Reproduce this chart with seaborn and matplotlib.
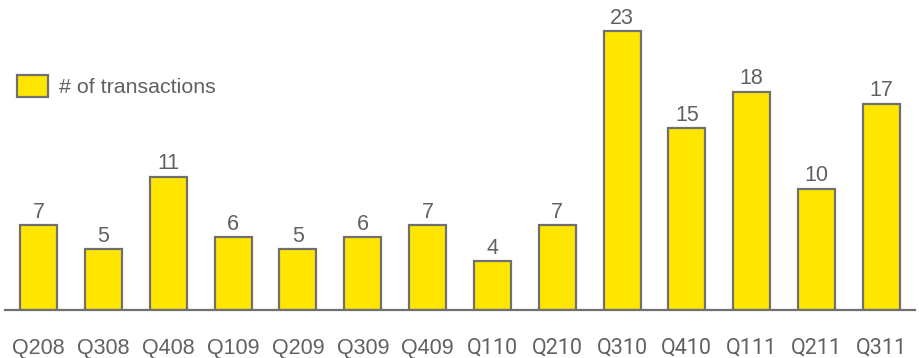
import matplotlib
matplotlib.use("Agg")
import matplotlib.pyplot as plt
import seaborn as sns
import pandas as pd
from matplotlib.patches import Patch

quarters = ["Q208", "Q308", "Q408", "Q109", "Q209", "Q309", "Q409",
            "Q110", "Q210", "Q310", "Q410", "Q111", "Q211", "Q311"]
transactions = [7, 5, 11, 6, 5, 6, 7, 4, 7, 23, 15, 18, 10, 17]
series_name = "# of transactions"

sns.set_theme(style="white")
plt.rcParams['font.family'] = ['Liberation Sans', 'DejaVu Sans']

df = pd.DataFrame({"quarter": quarters, "value": transactions})

fig = plt.figure(figsize=(9.2, 3.58), dpi=100)
ax = fig.add_axes([5/920, 48/358, 910/920, (310-6.7)/358])

yellow = "#FFE600"
edge = "#707070"
txt = "#616161"

sns.barplot(data=df, x="quarter", y="value", color=yellow, width=0.57,
            edgecolor=edge, linewidth=1.6, saturation=1, ax=ax)

ax.set_xlim(-0.52, 13.52)
ax.set_ylim(0, 25)
ax.set_xlabel("")
ax.set_ylabel("")
ax.set_yticks([])
for s in ["top", "right", "left"]:
    ax.spines[s].set_visible(False)
ax.spines["bottom"].set_color(edge)
ax.spines["bottom"].set_linewidth(1.6)

for i, v in enumerate(transactions):
    ax.text(i, v + 0.2, str(v), ha="center", va="bottom", fontsize=15.5, color=txt)

ax.set_xticks(range(len(quarters)))
ax.set_xticklabels(quarters)
ax.tick_params(axis="x", length=0, pad=20, labelsize=15.5, labelcolor=txt)
for i, lab in enumerate(ax.get_xticklabels()):
    if i >= 7:
        lab.set_fontfamily(["Roboto", "DejaVu Sans"])
        lab.set_fontweight("normal")

handle = Patch(facecolor=yellow, edgecolor=edge, linewidth=1.6, label=series_name)
leg = ax.legend(handles=[handle], loc="upper left", bbox_to_anchor=(0.013, 0.775),
                frameon=False, fontsize=15.4, handlelength=1.45, handleheight=1.2,
                handletextpad=0.5, borderaxespad=0, borderpad=0)
for t in leg.get_texts():
    t.set_color(txt)

fig.savefig("out.png", dpi=100)
